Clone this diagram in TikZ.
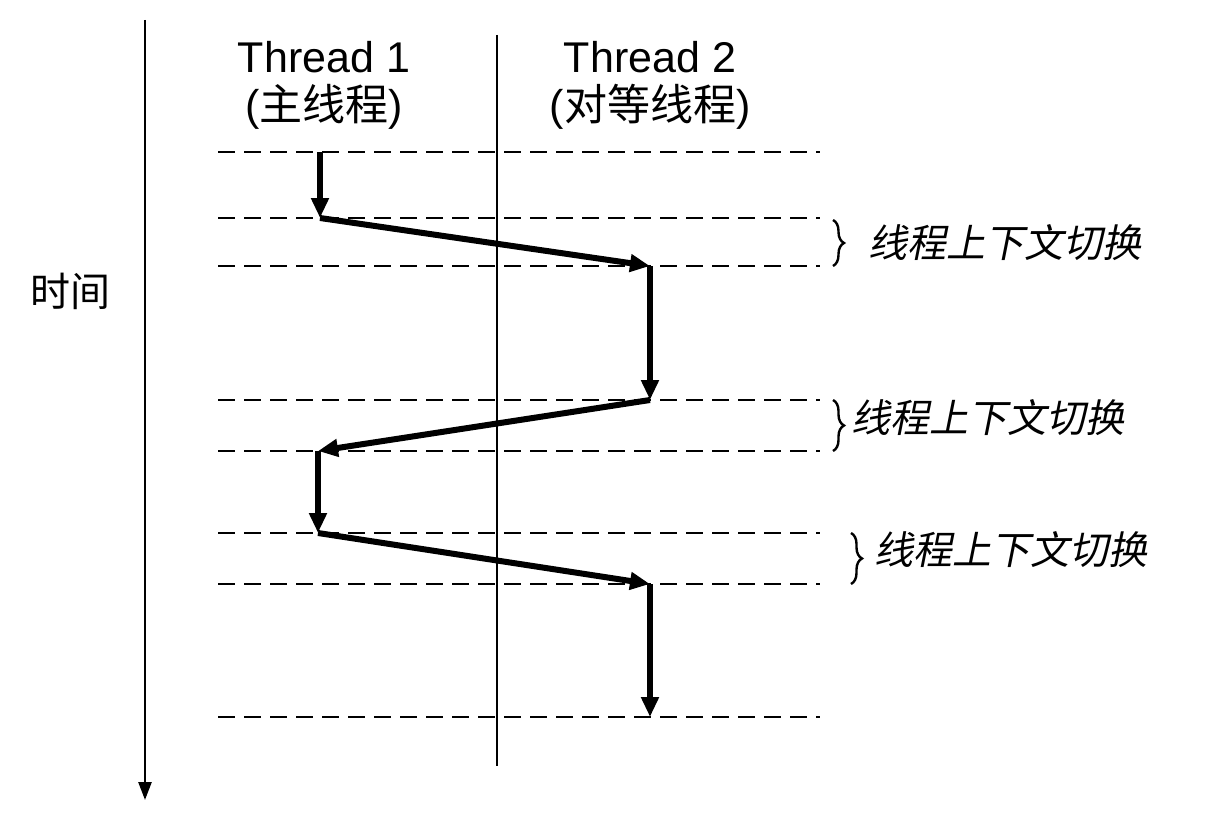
\documentclass[tikz,border=0pt]{standalone}
\usepackage{fontspec}
\setmainfont{Liberation Sans}
\newfontfamily\cjk{Noto Sans CJK SC}
\newfontfamily\cjkit[FakeSlant=0.2]{Noto Sans CJK SC}
\usetikzlibrary{arrows.meta,decorations.pathreplacing}
\begin{document}
\begin{tikzpicture}[x=1pt,y=-1pt,
  axisline/.style={line width=2.6pt},
  dline/.style={line width=2.6pt, dash pattern=on 17pt off 9pt},
  flow/.style={line width=6pt, -{Triangle[length=20pt,width=17pt]}},
  bracestyle/.style={line width=2.4pt, decorate, decoration={brace, amplitude=11pt}},
  lbl/.style={font=\fontsize{39}{46}\selectfont\cjkit, anchor=west, inner sep=0pt},
  hdr/.style={font=\fontsize{43}{48}\selectfont, align=center, inner sep=0pt}]
\useasboundingbox (0,0) rectangle (1210,840);

% time axis
\coordinate (tTop) at (145,20);
\coordinate (tBot) at (145,800);
\draw[axisline, -{Triangle[length=18pt,width=13pt]}] (tTop) -- (tBot);
\node[font=\fontsize{40}{46}\selectfont\cjk] (time) at (70,291) {时间};

% separator
\coordinate (sTop) at (497,35);
\coordinate (sBot) at (497,766);
\draw[axisline] (sTop) -- (sBot);

% headers
\node[hdr] (h1) at (324,85) {Thread 1\\({\cjk 主线程})};
\node[hdr] (h2) at (650,85) {Thread 2\\({\cjk 对等线程})};

% dashed time lines
\foreach \y/\n in {152/a,218/b,266/c,400/d,451/e,533/f,584/g,717/h}{
  \coordinate (L\n) at (218,\y);
  \coordinate (R\n) at (820,\y);
  \draw[dline] (L\n) -- (R\n);
}

% flow corners
\coordinate (p1) at (320,152);
\coordinate (p2) at (320,218);
\coordinate (p3) at (650,266);
\coordinate (p4) at (650,400);
\coordinate (p5) at (318,451);
\coordinate (p6) at (318,533);
\coordinate (p7) at (650,584);
\coordinate (p8) at (650,717);
\draw[flow] (p1) -- (p2);
\draw[flow] (p2) -- (p3);
\draw[flow] (p3) -- (p4);
\draw[flow] (p4) -- (p5);
\draw[flow] (p5) -- (p6);
\draw[flow] (p6) -- (p7);
\draw[flow] (p7) -- (p8);

% braces
\coordinate (b1t) at (833,220);
\coordinate (b1b) at (833,266);
\coordinate (b2t) at (833,400);
\coordinate (b2b) at (833,451);
\coordinate (b3t) at (851,533);
\coordinate (b3b) at (851,584);
\draw[bracestyle] (b1t) -- (b1b);
\draw[bracestyle] (b2t) -- (b2b);
\draw[bracestyle] (b3t) -- (b3b);
\node[lbl] (s1) at (868,243) {线程上下文切换};
\node[lbl] (s2) at (851,418) {线程上下文切换};
\node[lbl] (s3) at (874,550) {线程上下文切换};
\end{tikzpicture}
\end{document}
